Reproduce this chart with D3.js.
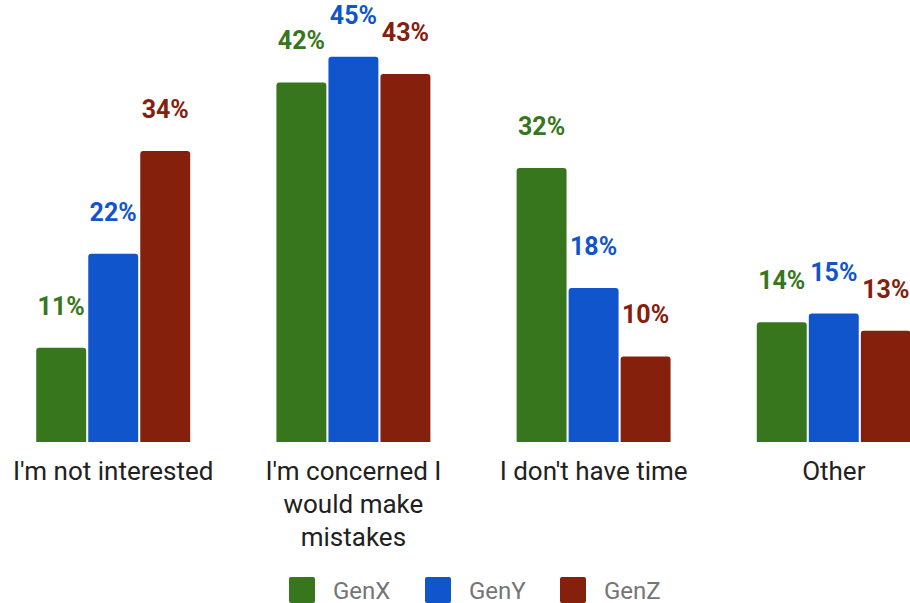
<!DOCTYPE html>
<html>
<head>
<meta charset="utf-8">
<script src="https://cdn.jsdelivr.net/npm/d3@7"></script>
<style>
  html, body { margin: 0; padding: 0; background: #fff; overflow: hidden; }
  svg { display: block; font-family: Roboto, "Noto Sans", sans-serif; }
</style>
</head>
<body>
<svg id="chart"></svg>
<script>
// data
const categories = ["I'm not interested", "I'm concerned I would make mistakes", "I don't have time", "Other"];
const series = ["GenX", "GenY", "GenZ"];
const genX = [11, 42, 32, 14];
const genY = [22, 45, 18, 15];
const genZ = [34, 43, 10, 13];
const colors = ["#38761d", "#1155cc", "#85200c"];

const width = 910, height = 603;
const baseline = 442;

const values = [genX, genY, genZ];
const rows = categories.map((c, i) => ({
  category: c,
  bars: series.map((s, j) => ({ series: s, value: values[j][i], color: colors[j] }))
}));

const svg = d3.select('#chart')
  .attr('width', width)
  .attr('height', height);

/** scales */
const x0 = d3.scaleBand()
  .domain(categories)
  .range([-7, 954])
  .paddingInner(0.359)
  .paddingOuter(0.18);

const x1 = d3.scaleBand()
  .domain(series)
  .range([0, x0.bandwidth()])
  .paddingInner(0.04);

const y = d3.scaleLinear()
  .domain([0, 50])
  .range([baseline, 14]);

const color = d3.scaleOrdinal().domain(series).range(colors);

/** rounded-top bar path */
function barPath(x, yTop, w, h, r) {
  r = Math.min(r, h, w / 2);
  return `M${x},${yTop + h}V${yTop + r}Q${x},${yTop} ${x + r},${yTop}` +
    `H${x + w - r}Q${x + w},${yTop} ${x + w},${yTop + r}V${yTop + h}Z`;
}

const groups = svg.append('g')
  .selectAll('g')
  .data(rows)
  .join('g')
  .attr('transform', d => `translate(${x0(d.category)},0)`);

groups.selectAll('path')
  .data(d => d.bars)
  .join('path')
  .attr('fill', d => color(d.series))
  .attr('d', d => barPath(x1(d.series), y(d.value), x1.bandwidth(), baseline - y(d.value), 3));

groups.selectAll('text.value')
  .data(d => d.bars)
  .join('text')
  .attr('class', 'value')
  .attr('x', d => x1(d.series) + x1.bandwidth() / 2)
  .attr('y', d => y(d.value) - 33)
  .attr('text-anchor', 'middle')
  .attr('font-size', 25)
  .attr('font-weight', 'bold')
  .attr('fill', d => color(d.series))
  .text(d => d.value + '%');

/** category labels, wrapped */
const labels = svg.append('g')
  .selectAll('text')
  .data(categories)
  .join('text')
  .attr('x', d => x0(d) + x0.bandwidth() / 2)
  .attr('y', 480)
  .attr('text-anchor', 'middle')
  .attr('font-size', 26)
  .attr('fill', '#212121');

labels.each(function (d) {
  const text = d3.select(this);
  const words = d.split(' ');
  const cx = text.attr('x');
  let line = [];
  let lineNo = 0;
  let tspan = text.append('tspan').attr('x', cx).attr('y', 480);
  words.forEach(w => {
    line.push(w);
    tspan.text(line.join(' '));
    if (tspan.node().getComputedTextLength() > 228 && line.length > 1) {
      line.pop();
      tspan.text(line.join(' '));
      line = [w];
      lineNo += 1;
      tspan = text.append('tspan').attr('x', cx).attr('y', 480 + lineNo * 33).text(w);
    }
  });
});

/** legend */
const legendX = [289, 425, 560];
const legend = svg.append('g')
  .selectAll('g')
  .data(series)
  .join('g')
  .attr('transform', (d, i) => `translate(${legendX[i]},577)`);

legend.append('rect')
  .attr('width', 26)
  .attr('height', 26)
  .attr('rx', 2)
  .attr('fill', d => color(d));

legend.append('text')
  .attr('x', 44)
  .attr('y', 22)
  .attr('font-size', 24)
  .attr('fill', '#757575')
  .text(d => d);
</script>
</body>
</html>
